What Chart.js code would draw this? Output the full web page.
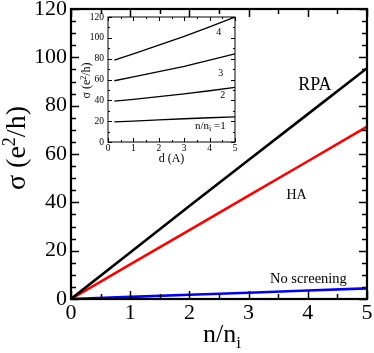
<!DOCTYPE html>
<html><head><meta charset="utf-8">
<script src="https://cdn.jsdelivr.net/npm/chart.js@4/dist/chart.umd.min.js"></script>
<style>
html,body{margin:0;padding:0;background:#fff;}
#wrap{position:relative;width:374px;height:353px;background:#fff;}
#main{position:absolute;left:0;top:0;}
#inset{position:absolute;left:78px;top:12px;}
</style></head><body>
<div id="wrap">
<canvas id="main" width="374" height="353"></canvas>
<canvas id="inset" width="162" height="153"></canvas>
</div>
<script>
// ---- main panel data ----
const densityRatio = [0, 1, 2, 3, 4, 5];
const sigmaRPA = [0, 19.2, 38.5, 57.5, 76.5, 95.5];
const sigmaHA = [0, 14.3, 28.5, 42.8, 57.0, 71.3];
const sigmaNoScreening = [0, 0.88, 1.75, 2.6, 3.5, 4.4];
const mainXTicks = [0, 1, 2, 3, 4, 5];
const mainYTicks = [0, 20, 40, 60, 80, 100, 120];

// ---- inset data ----
const distance = [0.25, 1, 2, 3, 4, 5];
const sigmaN1 = [19.3, 20.1, 21.2, 22.3, 23.3, 24.2];
const sigmaN2 = [39.2, 41.0, 43.6, 46.2, 49.2, 52.5];
const sigmaN3 = [58.8, 62.5, 67.5, 72.5, 78.5, 84.6];
const sigmaN4 = [78.5, 84.5, 93.0, 101.5, 110.5, 120];
const insetXTicks = [0, 1, 2, 3, 4, 5];
const insetYTicks = [0, 20, 40, 60, 80, 100, 120];

const SERIF = "'Liberation Serif','Times New Roman',serif";
const pts = (xs, ys) => xs.map((x, i) => ({x, y: ys[i]}));

function drawRich(ctx, parts, x, y, align) {
  let w = 0;
  parts.forEach(p => { ctx.font = p.size + 'px ' + SERIF; w += ctx.measureText(p.t).width; });
  let cx = align === 'center' ? x - w / 2 : x;
  ctx.textAlign = 'left';
  ctx.textBaseline = 'alphabetic';
  parts.forEach(p => {
    ctx.font = p.size + 'px ' + SERIF;
    ctx.fillText(p.t, cx, y + (p.dy || 0));
    cx += ctx.measureText(p.t).width;
  });
}

function framePlugin(cfg) {
  return {
    id: 'frameTicks',
    afterDraw(chart) {
      const {ctx, chartArea: a, scales: {x, y}} = chart;
      ctx.save();
      ctx.strokeStyle = '#000';
      ctx.fillStyle = '#000';
      const seg = (x1, y1, x2, y2) => { ctx.beginPath(); ctx.moveTo(x1, y1); ctx.lineTo(x2, y2); ctx.stroke(); };
      ctx.lineWidth = cfg.tickWidth;
      for (let v = x.min; v <= x.max + 1e-9; v += cfg.xMinor) {
        const major = Math.abs(v / cfg.xMajor - Math.round(v / cfg.xMajor)) < 1e-6;
        const len = major ? cfg.major : cfg.minor;
        const px = Math.round(x.getPixelForValue(v)) + 0.5;
        seg(px, a.bottom, px, a.bottom - len);
        seg(px, a.top, px, a.top + len);
      }
      for (let v = y.min; v <= y.max + 1e-9; v += cfg.yMinor) {
        const major = Math.abs(v / cfg.yMajor - Math.round(v / cfg.yMajor)) < 1e-6;
        const len = major ? cfg.major : cfg.minor;
        const py = Math.round(y.getPixelForValue(v)) + 0.5;
        seg(a.left, py, a.left + len, py);
        seg(a.right, py, a.right - len, py);
      }
      ctx.lineWidth = cfg.frame;
      ctx.strokeRect(a.left, a.top, a.right - a.left, a.bottom - a.top);
      // annotations
      cfg.labels.forEach(l => {
        const px = x.getPixelForValue(l.x), py = y.getPixelForValue(l.y);
        drawRich(ctx, l.parts, px, py, 'center');
      });
      // axis titles
      const t = cfg.titles;
      drawRich(ctx, t.x.parts, (a.left + a.right) / 2 + t.x.dx, a.bottom + t.x.dy, 'center');
      ctx.save();
      ctx.translate(a.left - t.y.dx, (a.top + a.bottom) / 2 + t.y.dy);
      ctx.rotate(-Math.PI / 2);
      drawRich(ctx, t.y.parts, 0, 0, 'center');
      ctx.restore();
      ctx.restore();
    }
  };
}

function scaleOpts(axis, min, max, ticksArr, size, pad, fitSize) {
  return {
    type: 'linear', min, max,
    afterBuildTicks: s => { s.ticks = ticksArr.map(v => ({value: v})); },
    ticks: {font: {family: SERIF, size}, color: '#000', padding: pad, maxRotation: 0, autoSkip: false},
    grid: {display: false, drawTicks: false},
    border: {display: false},
    afterFit: s => {
      if (axis === 'x') { s.height = fitSize; s.paddingLeft = 0; s.paddingRight = 0; }
      else { s.width = fitSize; s.paddingTop = 0; s.paddingBottom = 0; }
    }
  };
}

const lineDs = (data, color, w) => ({data, borderColor: color, borderWidth: w, pointRadius: 0, fill: false, tension: 0});

new Chart(document.getElementById('main'), {
  type: 'line',
  data: {datasets: [
    lineDs(pts(densityRatio, sigmaRPA), '#000000', 2.6),
    lineDs(pts(densityRatio, sigmaHA), '#ff0000', 2.6),
    lineDs(pts(densityRatio, sigmaNoScreening), '#0000ff', 2.6)
  ]},
  options: {
    responsive: false, animation: false, devicePixelRatio: 1,
    layout: {padding: {left: 0, top: 9, right: 7, bottom: 0}},
    plugins: {legend: {display: false}, tooltip: {enabled: false}},
    scales: {
      x: scaleOpts('x', 0, 5, mainXTicks, 22, 1, 54),
      y: scaleOpts('y', 0, 120, mainYTicks, 22, 4, 71)
    }
  },
  plugins: [framePlugin({
    major: 8, minor: 5, tickWidth: 1.5, frame: 2.2,
    xMajor: 1, xMinor: 0.5, yMajor: 20, yMinor: 5,
    labels: [
      {x: 4.12, y: 86.5, parts: [{t: 'RPA', size: 18}]},
      {x: 3.81, y: 41.4, parts: [{t: 'HA', size: 14}]},
      {x: 4.01, y: 6.5, parts: [{t: 'No screening', size: 14.5}]}
    ],
    titles: {
      x: {dx: 3, dy: 43, parts: [{t: 'n/n', size: 26}, {t: 'i', size: 17, dy: 6}]},
      y: {dx: 46, dy: -6, parts: [{t: 'σ (e', size: 28}, {t: '2', size: 18, dy: -10}, {t: '/h)', size: 28}]}
    }
  })]
});

new Chart(document.getElementById('inset'), {
  type: 'line',
  data: {datasets: [
    lineDs(pts(distance, sigmaN1), '#000', 1.3),
    lineDs(pts(distance, sigmaN2), '#000', 1.3),
    lineDs(pts(distance, sigmaN3), '#000', 1.3),
    lineDs(pts(distance, sigmaN4), '#000', 1.3)
  ]},
  options: {
    responsive: false, animation: false, devicePixelRatio: 1,
    layout: {padding: {left: 0, top: 5, right: 5, bottom: 0}},
    plugins: {legend: {display: false}, tooltip: {enabled: false}},
    scales: {
      x: scaleOpts('x', 0, 5, insetXTicks, 9.5, 1, 23),
      y: scaleOpts('y', 0, 120, insetYTicks, 9.5, 4, 30)
    }
  },
  plugins: [framePlugin({
    major: 4, minor: 2, tickWidth: 1, frame: 1,
    xMajor: 1, xMinor: 0.5, yMajor: 20, yMinor: 10,
    labels: [
      {x: 4.36, y: 102.9, parts: [{t: '4', size: 10}]},
      {x: 4.44, y: 63.4, parts: [{t: '3', size: 10}]},
      {x: 4.52, y: 42.1, parts: [{t: '2', size: 10}]},
      {x: 4.03, y: 12.2, parts: [{t: 'n/n', size: 11}, {t: 'i', size: 8, dy: 2}, {t: ' =1', size: 11}]}
    ],
    titles: {
      x: {dx: 0, dy: 20, parts: [{t: 'd (A)', size: 12}]},
      y: {dx: 18, dy: 1, parts: [{t: 'σ (e', size: 12}, {t: '2', size: 8, dy: -4}, {t: '/h)', size: 12}]}
    }
  })]
});
</script>
</body></html>
